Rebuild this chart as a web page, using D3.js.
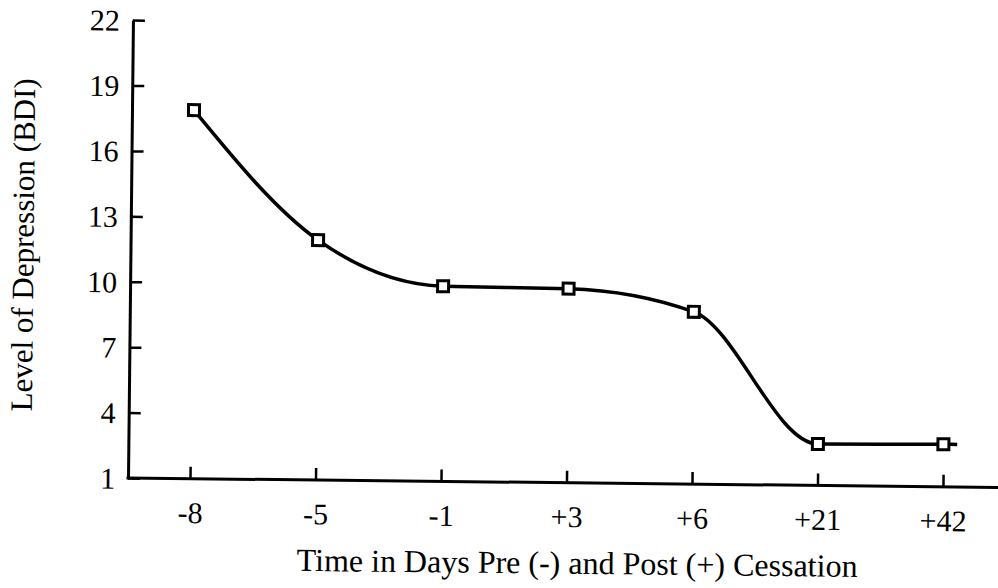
<!DOCTYPE html>
<html>
<head>
<meta charset="utf-8">
<script src="https://cdn.jsdelivr.net/npm/d3@7"></script>
<style>
  body { margin: 0; background: #fff; }
  svg { display: block; }
  text { font-family: "Liberation Serif", "Times New Roman", serif; fill: #000; }
</style>
</head>
<body>
<svg id="chart"></svg>
<script>
// days relative to quitting, and mean BDI score on each day
var days = ["-8", "-5", "-1", "+3", "+6", "+21", "+42"];
var bdi = [17.9, 12.0, 9.95, 9.9, 8.9, 2.9, 2.95];
var yTicks = [1, 4, 7, 10, 13, 16, 19, 22];

var width = 998;
var height = 588;

// corner of the axes (the scanned original is tilted a little)
var x0 = 128, y0 = 478, yTop = 20;
var tilt = 0.62;

var svg = d3.select("#chart")
    .attr("width", width)
    .attr("height", height);

svg.append("rect")
    .attr("width", width)
    .attr("height", height)
    .attr("fill", "white");

var g = svg.append("g")
    .attr("transform", `rotate(${tilt}, ${x0}, ${y0})`);

var x = d3.scalePoint()
    .domain(days)
    .range([190, 943]);

var y = d3.scaleLinear()
    .domain([1, 22])
    .range([y0, yTop]);

// y axis, ticks pointing inwards
var yAxis = g.append("g")
    .attr("transform", `translate(${x0},0)`)
    .call(d3.axisLeft(y)
        .tickValues(yTicks)
        .tickSize(-12)
        .tickSizeOuter(0)
        .tickPadding(13));

yAxis.select(".domain")
    .attr("stroke-width", 3);
yAxis.selectAll(".tick line")
    .attr("stroke-width", 2.5);
yAxis.selectAll(".tick text")
    .style("font-size", "30px")
    .attr("dy", "0.34em");

// x axis
var xAxis = g.append("g")
    .attr("transform", `translate(0,${y0})`)
    .call(d3.axisBottom(x)
        .tickSize(-12)
        .tickSizeOuter(0)
        .tickPadding(23));

xAxis.select(".domain").remove();
xAxis.selectAll(".tick line")
    .attr("stroke-width", 2.5);
xAxis.selectAll(".tick text")
    .style("font-size", "30px");

xAxis.append("line")
    .attr("x1", x0 - 1.5)
    .attr("x2", width + 10)
    .attr("stroke", "black")
    .attr("stroke-width", 3);

// data line, with the short tail after the last point
var pts = days.map((d, i) => [x(d), y(bdi[i])]);
pts.push([x(days[days.length - 1]) + x.step() * 0.11, y(bdi[bdi.length - 1])]);

var line = d3.line()
    .curve(d3.curveMonotoneX);

g.append("path")
    .attr("d", line(pts))
    .attr("fill", "none")
    .attr("stroke", "black")
    .attr("stroke-width", 3.5)
    .attr("stroke-linejoin", "round");

var box = 11;
g.append("g")
    .selectAll("rect")
    .data(bdi)
    .join("rect")
    .attr("x", (d, i) => x(days[i]) - box / 2)
    .attr("y", d => y(d) - box / 2)
    .attr("width", box)
    .attr("height", box)
    .attr("fill", "white")
    .attr("stroke", "black")
    .attr("stroke-width", 3);

// axis titles
g.append("text")
    .attr("x", 578)
    .attr("y", 569)
    .attr("text-anchor", "middle")
    .style("font-size", "32px")
    .text("Time in Days Pre (-) and Post (+) Cessation");

g.append("text")
    .attr("transform", "translate(31,246) rotate(-90)")
    .attr("text-anchor", "middle")
    .style("font-size", "31px")
    .text("Level of Depression (BDI)");
</script>
</body>
</html>
